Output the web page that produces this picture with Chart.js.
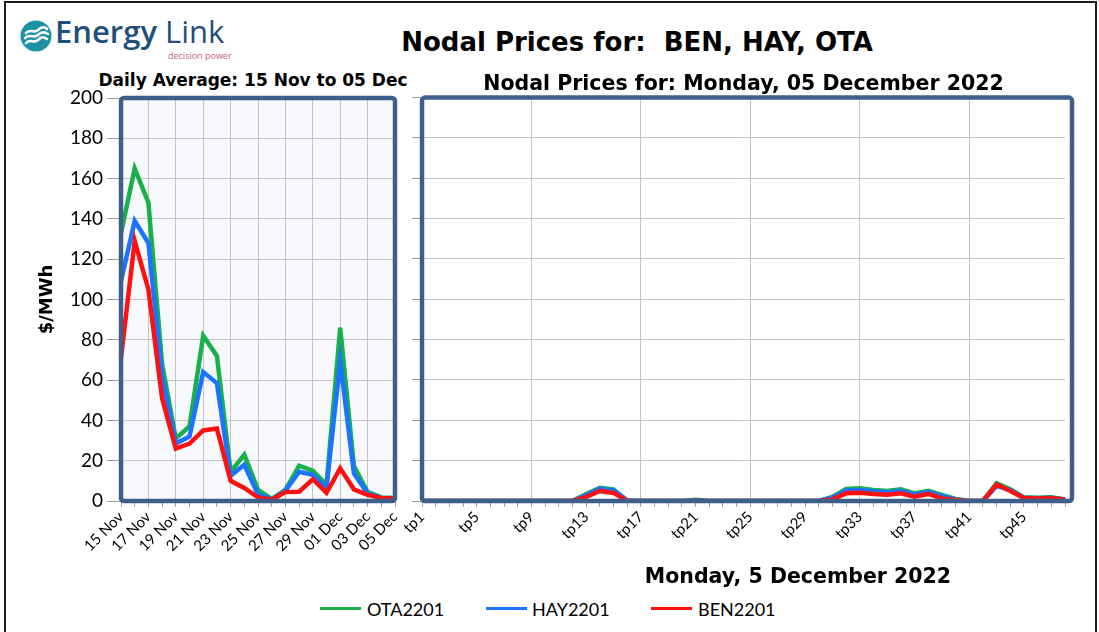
<!DOCTYPE html>
<html>
<head>
<meta charset="utf-8">
<title>Nodal Prices for: BEN, HAY, OTA</title>
<script src="https://cdn.jsdelivr.net/npm/chart.js@4.4.0/dist/chart.umd.min.js"></script>
<style>
  html, body { margin: 0; padding: 0; background: #fff; }
  #pagina { position: relative; width: 1099px; height: 632px; overflow: hidden; }
  #borde { position: absolute; left: 4px; top: 1px; width: 1089px; height: 650px; border: 2px solid #1c1c1c; }
  canvas { position: absolute; }
  .txt { position: absolute; white-space: nowrap; color: #000; transform: translateX(-50%); }
  #titulo { left: 637px; top: 26px; font: bold 26px "DejaVu Sans", sans-serif; line-height: 32px; }
  #subtitulo { left: 253px; top: 69px; font: bold 17px "DejaVu Sans", sans-serif; line-height: 22px; }
  #tituloX { left: 798px; top: 563px; font: bold 20.5px "DejaVu Sans", sans-serif; line-height: 26px; }
  .linea { position: absolute; top: 607px; width: 41px; height: 3px; }
  .etiqueta { position: absolute; top: 597px; font: 18px Lato, sans-serif; line-height: 24px; color: #000; }
  #logoTexto { position: absolute; left: 55px; top: 13px; color: #1f4f7a; font: 600 31px "Open Sans", sans-serif; line-height: 36px; }
  #logoTexto span { font-weight: 400; }
  #logoLema { position: absolute; left: 168px; top: 49px; color: #c4647c; font: 9px "Open Sans", sans-serif; }
</style>
</head>
<body>
<div id="pagina">
  <div id="borde"></div>

  <svg style="position:absolute;left:20px;top:20px" width="32" height="32" viewBox="0 0 32 32">
    <circle cx="16" cy="16" r="15.5" fill="#1c91a4"/>
    <path d="M6 13 C10 8, 14 14, 18 10 S25 7, 27 9" stroke="#fff" stroke-width="2.6" fill="none" stroke-linecap="round"/>
    <path d="M5 18 C9 13, 14 19, 18 15 S25 12, 28 14" stroke="#fff" stroke-width="2.6" fill="none" stroke-linecap="round"/>
    <path d="M6 23 C10 18, 14 24, 18 20 S24 17, 27 19" stroke="#fff" stroke-width="2.6" fill="none" stroke-linecap="round"/>
  </svg>
  <div id="logoTexto">Energy <span>Link</span></div>
  <div id="logoLema">decision power</div>

  <div id="titulo" class="txt">Nodal Prices for:&nbsp; BEN, HAY, OTA</div>
  <div id="subtitulo" class="txt">Daily Average: 15 Nov to 05 Dec</div>

  <canvas id="chDiario" width="410" height="508" style="left:0;top:62px"></canvas>
  <canvas id="chPeriodos" width="729" height="508" style="left:370px;top:62px"></canvas>

  <div id="tituloX" class="txt">Monday, 5 December 2022</div>

  <div class="linea" style="left:320px;background:#17b04b"></div>
  <div class="etiqueta" style="left:367px">OTA2201</div>
  <div class="linea" style="left:486px;background:#1a74ff"></div>
  <div class="etiqueta" style="left:532px">HAY2201</div>
  <div class="linea" style="left:651px;background:#ff1010"></div>
  <div class="etiqueta" style="left:698px">BEN2201</div>
</div>

<script>
// Promedio diario 15 Nov - 05 Dec ($/MWh)
const DIAS = ["15 Nov", "16 Nov", "17 Nov", "18 Nov", "19 Nov", "20 Nov", "21 Nov", "22 Nov", "23 Nov", "24 Nov", "25 Nov",
  "26 Nov", "27 Nov", "28 Nov", "29 Nov", "30 Nov", "01 Dec", "02 Dec", "03 Dec", "04 Dec", "05 Dec"];
const OTA_DIA = [133, 165, 148, 68, 31, 37, 82, 72, 14.5, 23, 5.5, 1, 5.5, 17.5, 15, 8, 86, 17.5, 4.5, 1.8, 1.5];
const HAY_DIA = [109, 139, 128, 62, 28.5, 32, 64, 58.5, 12.5, 18, 3.3, 0.8, 5, 14.5, 13, 6.5, 69.5, 13.7, 3.8, 1.5, 1.2];
const BEN_DIA = [71, 129, 105, 51, 26, 28.5, 35, 36, 10, 6.5, 1.8, 0.6, 4.5, 4.6, 10.8, 4.1, 16.2, 5.8, 3, 1.5, 1.2];

// Periodos de comercializacion del lunes 05 Dec
const PERIODOS = ["tp1", "tp2", "tp3", "tp4", "tp5", "tp6", "tp7", "tp8", "tp9", "tp10", "tp11", "tp12",
  "tp13", "tp14", "tp15", "tp16", "tp17", "tp18", "tp19", "tp20", "tp21", "tp22", "tp23", "tp24",
  "tp25", "tp26", "tp27", "tp28", "tp29", "tp30", "tp31", "tp32", "tp33", "tp34", "tp35", "tp36",
  "tp37", "tp38", "tp39", "tp40", "tp41", "tp42", "tp43", "tp44", "tp45", "tp46", "tp47", "tp48"];
const OTA_TP = [0, 0, 0, 0, 0, 0, 0, 0, 0, 0, 0, 0, 3.5, 6.5, 5.8, 0.3, 0, 0, 0, 0, 0.6, 0, 0, 0,
  0, 0, 0, 0, 0, 0, 2, 6, 6.3, 5.5, 5, 5.8, 3.8, 5.1, 3, 1, 0, 0, 8.8, 5.8, 1.8, 1.6, 1.8, 0.8];
const HAY_TP = [0, 0, 0, 0, 0, 0, 0, 0, 0, 0, 0, 0, 3, 6, 5.2, 0.2, 0, 0, 0, 0, 0.2, 0, 0, 0,
  0, 0, 0, 0, 0, 0, 1.6, 5.2, 5.5, 4.8, 4.3, 5, 3.2, 4.5, 2.4, 0.8, 0, 0, 7.5, 5.4, 1.6, 1.4, 1.6, 0.7];
const BEN_TP = [0, 0, 0, 0, 0, 0, 0, 0, 0, 0, 0, 0, 2, 5, 4, 0, 0, 0, 0, 0, 0, 0, 0, 0,
  0, 0, 0, 0, 0, 0, 0.8, 3.8, 4.1, 3.5, 3.1, 3.8, 2.1, 3.5, 1.3, 0.5, 0, 0, 8.3, 5, 1.5, 1.2, 1.5, 0.6];

const Y_MIN = 0;
const Y_MAX = 200;
const Y_PASO = 20;

const COLORES = { ota: "#17b04b", hay: "#1a74ff", ben: "#ff1010" };
const GRIS = "#c4c4c4";

/** Fondo del area de trazado y marco azul grueso con esquinas redondeadas. */
const marcoPlugin = {
  id: "marco",
  beforeDraw(chart, args, opts) {
    const a = chart.chartArea, ctx = chart.ctx;
    ctx.save();
    ctx.fillStyle = opts.fondo;
    ctx.fillRect(a.left, a.top, a.right - a.left + opts.extra, a.bottom - a.top);
    ctx.restore();
  },
  afterDatasetsDraw(chart, args, opts) {
    const a = chart.chartArea, ctx = chart.ctx;
    ctx.save();
    ctx.strokeStyle = "#3f5f8b";
    ctx.lineWidth = 4.5;
    ctx.beginPath();
    ctx.roundRect(a.left, a.top, a.right - a.left + opts.extra, a.bottom - a.top, 3);
    ctx.stroke();
    ctx.restore();
  },
};

function serie(nombre, datos, color, orden) {
  return { label: nombre, data: datos, borderColor: color, backgroundColor: color, borderWidth: 4.5,
    pointRadius: 0, tension: 0, order: orden, borderJoinStyle: "miter" };
}

function crearGrafica(id, cfg) {
  return new Chart(document.getElementById(id), {
    type: "line",
    data: {
      labels: cfg.labels,
      datasets: [
        serie("OTA2201", cfg.ota, COLORES.ota, 2),
        serie("HAY2201", cfg.hay, COLORES.hay, 1),
        serie("BEN2201", cfg.ben, COLORES.ben, 0),
      ],
    },
    options: {
      responsive: false,
      animation: false,
      layout: { padding: { top: cfg.padSup, right: cfg.padDer, bottom: 0, left: 0 } },
      plugins: {
        legend: { display: false },
        tooltip: { enabled: false },
        title: {
          display: !!cfg.titulo, text: cfg.titulo, fullSize: false, color: "#000",
          font: { family: "DejaVu Sans", weight: "bold", size: cfg.tamTitulo },
          padding: cfg.padTitulo,
        },
        marco: { fondo: cfg.fondo, extra: cfg.extra },
      },
      scales: {
        x: {
          offset: false,
          border: { display: false },
          grid: {
            color: c => (c.index % cfg.cadaGrid === 0 ? GRIS : "transparent"),
            tickColor: "#9c9c9c", tickLength: 6, offset: false,
          },
          ticks: {
            autoSkip: false, minRotation: 45, maxRotation: 45, padding: 1, color: "#000",
            font: { family: "Lato", size: 15 },
            callback(v, i) { return i % cfg.cadaEtiqueta === 0 ? this.getLabelForValue(v) : ""; },
          },
          afterFit(s) { s.height = 69; },
        },
        y: {
          min: Y_MIN, max: Y_MAX,
          border: { display: false },
          grid: { color: GRIS, tickColor: "#9c9c9c", tickLength: cfg.largoTickY },
          ticks: {
            stepSize: Y_PASO, padding: 4, color: "#000", font: { family: "Lato", size: 19 },
            callback: v => (cfg.etiquetasY ? v : ""),
          },
          title: {
            display: cfg.etiquetasY, text: "$/MWh", color: "#000",
            font: { family: "DejaVu Sans", weight: "bold", size: 18 },
            padding: { top: 37, bottom: 0 },
          },
          afterFit(s) { s.width = cfg.anchoY; },
        },
      },
    },
    plugins: [marcoPlugin],
  });
}

crearGrafica("chDiario", {
  labels: DIAS, ota: OTA_DIA, hay: HAY_DIA, ben: BEN_DIA,
  titulo: "", padSup: 36,
  fondo: "#f7f9fc", extra: 0, padDer: 15, anchoY: 121, etiquetasY: true, largoTickY: 14,
  cadaGrid: 2, cadaEtiqueta: 2,
});

crearGrafica("chPeriodos", {
  labels: PERIODOS, ota: OTA_TP, hay: HAY_TP, ben: BEN_TP,
  titulo: "Nodal Prices for: Monday, 05 December 2022", tamTitulo: 20.5, padTitulo: { top: 10, bottom: 1 }, padSup: 0,
  fondo: "#ffffff", extra: 7, padDer: 34, anchoY: 52, etiquetasY: false, largoTickY: 10,
  cadaGrid: 8, cadaEtiqueta: 4,
});
</script>
</body>
</html>
